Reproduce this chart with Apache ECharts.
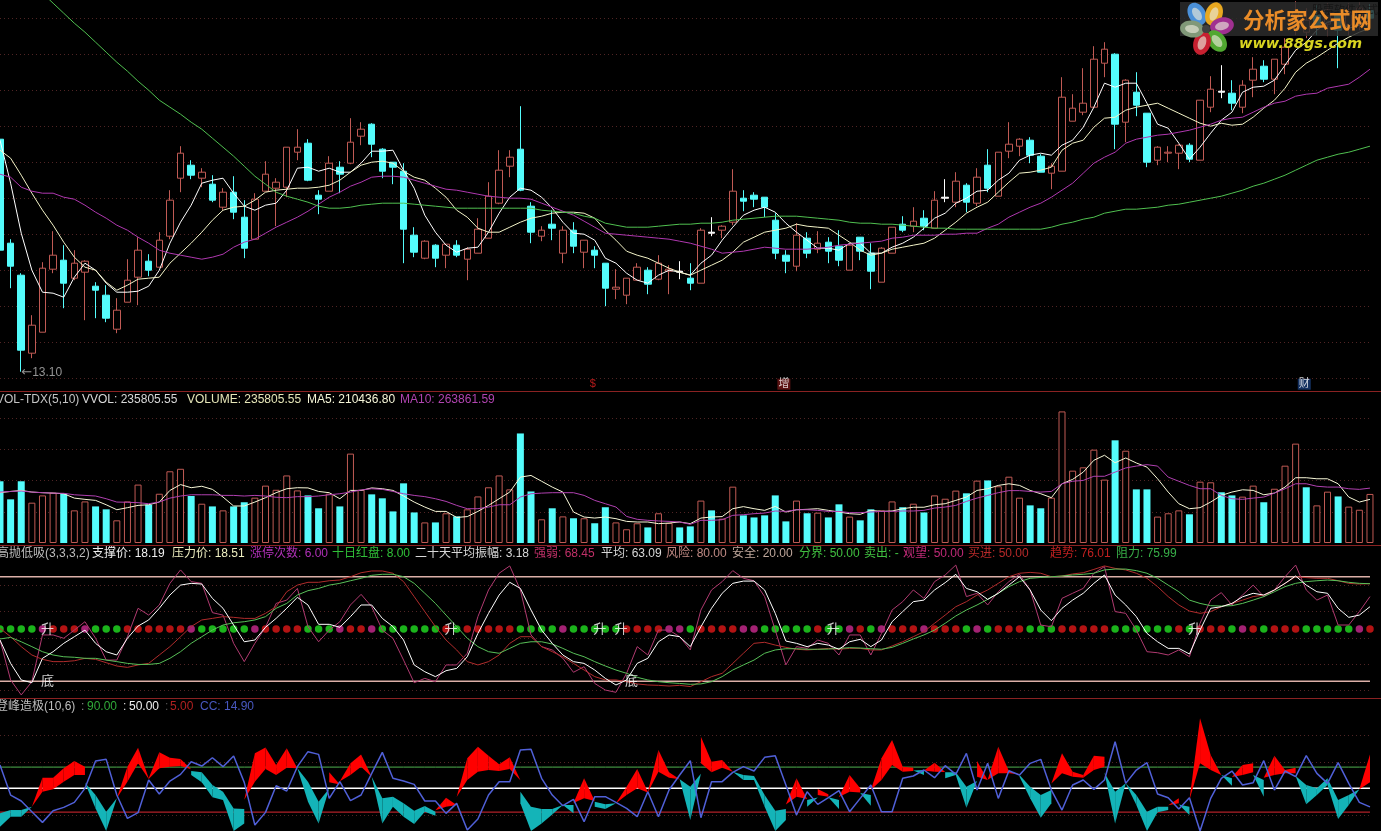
<!DOCTYPE html>
<html><head><meta charset="utf-8">
<style>html,body{margin:0;padding:0;background:#000;overflow:hidden}#c{width:1381px;height:831px}</style>
<script src="https://cdn.jsdelivr.net/npm/echarts@6/dist/echarts.min.js"></script>
</head><body><div id="c"></div>
<script>
const opens=[17.75,15.67,15.03,13.47,13.89,15.15,15.33,14.97,15.09,14.81,14.63,13.95,14.49,14.99,15.31,15.19,15.81,16.97,17.23,16.97,16.85,16.39,16.69,16.19,15.75,16.71,16.77,16.79,17.49,17.67,16.63,16.71,17.19,17.27,17.81,18.05,17.55,17.29,17.11,15.83,15.37,15.63,15.43,15.63,15.35,15.47,15.77,16.47,17.21,17.55,16.41,15.81,16.05,15.47,15.93,15.49,15.53,15.27,14.75,14.63,14.93,15.13,14.95,15.11,15.11,14.97,14.87,15.89,15.93,16.09,16.57,16.63,16.59,16.13,15.43,15.21,15.77,15.55,15.69,15.61,15.13,15.79,15.47,14.89,15.47,16.05,16.01,16.17,15.97,16.59,16.49,16.83,16.47,17.23,16.61,17.51,17.61,17.73,17.41,17.07,17.11,18.11,18.29,18.39,19.27,19.45,18.09,18.69,18.27,17.33,17.47,17.47,17.63,17.33,18.39,18.71,18.67,18.39,18.93,19.21,18.95,19.25,19.97,19.89,20.23,20.05,20.23,20.03,20.13,20.33];
const closes=[15.53,15.21,13.53,14.03,15.17,15.43,14.87,15.27,15.31,14.73,14.17,14.33,14.93,15.53,15.13,15.73,16.53,17.47,17.03,17.09,16.53,16.69,16.29,15.57,16.55,17.05,16.89,17.59,17.59,16.93,16.55,17.27,17.05,17.69,17.95,17.65,17.11,17.19,15.95,15.49,15.71,15.37,15.65,15.43,15.55,15.95,16.61,17.13,17.39,16.73,15.89,15.93,15.97,15.93,15.61,15.73,15.43,14.77,14.79,14.97,15.19,14.85,15.27,15.15,15.09,14.87,15.93,15.87,16.01,16.71,16.51,16.55,16.39,15.47,15.31,15.83,15.47,15.67,15.51,15.33,15.63,15.51,15.11,15.57,15.99,15.93,16.11,16.01,16.53,16.57,16.91,16.49,16.99,16.77,17.49,17.65,17.75,17.43,17.09,17.21,18.59,18.37,18.47,19.35,19.55,18.05,18.93,18.43,17.29,17.59,17.49,17.63,17.35,18.53,18.75,18.69,18.47,18.83,19.15,18.95,19.35,19.59,20.29,20.13,20.03,20.33,19.93,20.29,20.37,20.17];
const lows=[15.53,14.77,13.10,13.37,13.89,15.07,14.37,14.93,14.13,14.17,14.09,13.87,14.49,14.43,15.01,15.19,15.75,16.69,16.95,16.79,16.49,16.33,16.15,15.37,15.75,16.71,16.01,16.59,17.33,16.91,16.25,16.71,16.67,17.25,17.63,17.39,16.97,16.85,15.27,15.39,15.35,15.19,15.17,15.39,14.93,15.47,15.77,16.45,16.99,16.71,15.67,15.71,15.73,15.27,15.47,15.17,15.17,14.41,14.55,14.45,14.93,14.65,14.93,14.65,14.95,14.73,14.87,15.81,15.77,16.03,16.31,16.39,16.19,15.35,15.07,15.11,15.37,15.47,15.27,15.21,15.13,15.33,14.75,14.89,15.47,15.89,15.89,15.93,15.97,16.49,16.39,16.29,16.41,16.69,16.61,17.37,17.41,17.27,17.09,16.75,17.11,18.11,18.23,18.37,18.99,17.55,17.69,18.21,17.19,17.23,17.29,17.15,17.29,17.33,18.29,18.57,18.33,18.27,18.59,18.89,18.65,19.05,19.83,19.77,19.83,19.81,19.17,19.83,19.93,19.97];
const highs=[17.75,15.75,15.07,14.23,15.29,15.91,15.63,15.53,15.33,14.89,14.83,14.57,15.35,15.79,15.45,15.89,16.73,17.61,17.33,17.17,17.03,16.77,17.01,16.53,16.67,17.31,16.97,17.59,17.95,17.75,16.73,17.41,17.31,18.17,18.09,18.07,17.57,17.29,17.27,15.99,15.73,15.65,15.65,15.73,15.59,16.17,16.89,17.53,17.53,18.41,16.49,16.01,16.33,16.01,16.09,15.73,15.61,15.27,15.15,14.97,15.27,15.19,15.43,15.23,15.31,15.27,15.97,16.19,16.03,17.15,16.73,16.69,16.59,16.27,15.53,16.07,15.89,15.91,15.79,15.93,15.67,15.79,15.67,15.59,15.99,16.21,16.39,16.33,16.71,16.95,17.09,16.87,17.17,17.55,17.49,18.09,17.77,17.79,17.45,17.27,18.99,18.65,19.17,19.61,19.69,19.47,18.95,19.09,18.27,17.61,17.61,17.65,17.67,18.53,19.01,19.23,18.93,18.93,19.39,19.33,19.35,19.77,20.51,20.37,20.43,20.47,20.37,20.47,20.49,20.45];
const whiteDoji=[64,67,89,115];
const priceMa5=[17.73,16.87,15.87,15.13,14.69,14.67,14.59,14.99,15.27,15.13,14.87,14.69,14.69,14.71,14.81,15.13,15.67,16.09,16.43,16.87,16.93,16.97,16.67,16.41,16.33,16.43,16.47,16.73,17.17,17.19,17.11,17.17,17.09,17.09,17.27,17.51,17.51,17.53,17.13,16.77,16.23,15.89,15.63,15.49,15.57,15.59,15.89,16.27,16.59,16.77,16.73,16.59,16.37,16.09,15.87,15.85,15.73,15.37,15.27,15.07,14.93,14.87,15.03,15.13,15.09,15.03,15.27,15.43,15.73,15.99,16.23,16.33,16.39,16.29,16.07,15.89,15.73,15.57,15.57,15.53,15.67,15.67,15.47,15.47,15.59,15.67,15.79,15.97,16.17,16.27,16.47,16.57,16.71,16.73,16.93,17.07,17.33,17.43,17.47,17.43,17.63,17.73,17.99,18.39,18.87,18.79,18.87,18.87,18.47,18.05,17.97,17.67,17.35,17.59,17.87,18.13,18.29,18.69,18.79,18.81,18.93,19.23,19.53,19.69,19.93,20.09,20.13,19.97,20.03,20.13];
const priceMa10=[17.53,17.37,17.03,16.67,16.33,16.03,15.69,15.39,15.19,15.13,14.89,14.73,14.83,14.95,14.97,14.99,15.27,15.47,15.67,15.89,16.13,16.33,16.39,16.41,16.53,16.69,16.73,16.75,16.77,16.77,16.79,16.83,16.93,17.09,17.23,17.29,17.31,17.27,17.11,16.99,16.93,16.77,16.59,16.33,16.19,15.97,15.89,15.89,15.99,16.09,16.17,16.21,16.27,16.29,16.29,16.27,16.17,15.93,15.73,15.51,15.43,15.37,15.27,15.17,15.09,15.03,15.13,15.23,15.33,15.49,15.69,15.79,15.89,15.93,15.97,16.05,16.01,15.99,15.97,15.83,15.69,15.53,15.43,15.47,15.55,15.59,15.63,15.67,15.77,15.93,16.09,16.27,16.39,16.49,16.69,16.89,17.07,17.09,17.13,17.19,17.53,17.67,17.73,17.99,18.17,18.19,18.33,18.39,18.43,18.47,18.37,18.27,18.17,18.07,18.01,18.07,18.03,18.05,18.19,18.37,18.53,18.77,19.09,19.27,19.39,19.53,19.67,19.79,19.89,19.97];
const priceMa30=[17.05,16.99,16.79,16.71,16.67,16.67,16.59,16.55,16.43,16.29,16.17,16.03,15.93,15.79,15.67,15.53,15.47,15.43,15.39,15.35,15.39,15.45,15.59,15.69,15.75,15.87,15.99,16.09,16.19,16.31,16.45,16.59,16.69,16.81,16.89,16.99,17.01,17.01,16.99,16.93,16.87,16.81,16.75,16.73,16.69,16.65,16.61,16.59,16.57,16.57,16.55,16.47,16.39,16.31,16.23,16.11,15.99,15.87,15.85,15.83,15.81,15.79,15.77,15.75,15.71,15.67,15.61,15.55,15.47,15.49,15.51,15.55,15.59,15.57,15.55,15.55,15.55,15.57,15.59,15.63,15.65,15.67,15.69,15.71,15.77,15.79,15.83,15.83,15.83,15.85,15.85,15.87,15.87,15.97,16.05,16.19,16.29,16.39,16.47,16.59,16.73,16.87,17.07,17.27,17.39,17.49,17.67,17.75,17.79,17.83,17.85,17.89,17.93,17.99,18.05,18.13,18.17,18.19,18.29,18.39,18.47,18.51,18.61,18.65,18.67,18.77,18.81,18.85,18.99,19.15];
const priceMa120=[21.53,21.33,21.13,20.89,20.67,20.47,20.27,20.07,19.89,19.69,19.49,19.29,19.11,18.91,18.73,18.53,18.39,18.25,18.09,17.95,17.77,17.59,17.41,17.21,17.01,16.85,16.69,16.61,16.55,16.49,16.41,16.37,16.37,16.39,16.43,16.45,16.47,16.47,16.47,16.45,16.43,16.41,16.39,16.37,16.37,16.37,16.37,16.37,16.37,16.37,16.37,16.33,16.31,16.29,16.27,16.21,16.17,16.07,16.03,15.99,15.99,15.99,16.01,16.03,16.05,16.05,16.07,16.07,16.09,16.13,16.15,16.17,16.19,16.21,16.21,16.21,16.19,16.17,16.15,16.13,16.09,16.07,16.07,16.05,16.05,16.03,16.01,15.99,15.97,15.97,15.95,15.95,15.95,15.95,15.95,15.95,15.95,15.95,15.95,15.99,16.05,16.09,16.15,16.19,16.27,16.31,16.35,16.35,16.37,16.39,16.43,16.45,16.49,16.53,16.57,16.61,16.67,16.73,16.81,16.87,16.95,17.03,17.13,17.23,17.33,17.39,17.45,17.49,17.55,17.61];
const vol=[297,210,297,194,229,242,237,157,200,176,162,109,200,281,184,237,345,357,226,189,176,157,176,196,218,276,256,325,253,229,167,237,176,430,256,234,215,152,287,147,99,99,143,128,162,224,268,325,258,527,248,114,167,128,119,119,95,172,99,66,95,75,143,96,75,80,204,157,117,271,133,123,133,229,104,204,143,146,123,186,127,109,162,157,200,172,189,147,229,213,252,239,300,301,273,319,218,181,167,218,633,348,364,449,305,494,444,258,258,127,143,157,138,295,292,244,229,223,276,196,261,372,478,268,181,247,224,175,160,236];
const volDownBars=[0,1,2,6,9,10,14,18,20,22,23,29,30,32,35,36,37,38,39,41,43,49,50,52,54,56,57,61,64,65,67,70,71,72,73,74,76,78,79,81,82,85,87,91,93,97,98,105,107,108,112,115,116,119,123,126];
const volMa5=[242,248,253,245,242,240,237,216,210,205,184,160,170,181,184,197,253,281,266,273,258,221,178,178,197,218,242,261,266,265,248,242,213,253,253,265,261,253,226,197,173,152,152,123,127,152,181,213,245,317,325,297,269,245,149,125,120,125,117,104,101,101,93,96,101,93,120,125,127,165,175,165,157,176,149,160,162,165,157,149,141,138,157,152,154,165,172,172,184,189,205,221,253,261,277,285,277,253,237,218,285,306,341,398,422,386,409,385,365,309,245,189,165,170,197,229,245,256,253,232,240,269,314,314,309,309,285,221,197,210];
const volMa10=[245,248,250,245,242,240,239,232,229,226,213,197,196,194,189,197,216,226,232,232,232,229,229,226,229,226,220,218,223,223,226,232,237,245,255,261,258,248,237,229,223,213,200,181,165,165,173,184,184,221,237,240,242,242,242,229,205,189,173,128,114,109,106,104,101,90,109,109,112,133,136,141,144,154,152,160,160,157,152,152,146,146,149,152,152,154,154,157,168,173,181,200,216,229,242,252,252,248,245,248,285,297,301,321,321,341,361,370,377,370,317,297,277,261,261,229,213,210,216,221,240,261,285,285,273,269,269,261,258,264];
const oscMain=[43.7,30.3,20.8,19.2,33.2,37.0,41.8,45.6,49.4,41.8,37.0,35.1,44.7,51.7,55.2,61.9,69.5,75.2,76.2,75.8,67.6,61.9,52.3,42.7,43.7,51.0,56.1,61.9,68.2,63.8,52.7,52.7,51.0,57.1,63.8,63.8,56.1,51.4,43.7,29.4,25.5,22.7,26.1,27.4,34.1,47.5,59.0,69.5,76.8,73.3,60.9,49.4,41.8,35.1,31.3,30.3,26.5,21.7,17.9,20.8,30.3,33.2,42.7,46.6,45.6,39.9,51.3,61.9,70.5,76.2,77.5,77.5,72.4,59.0,43.1,41.8,39.9,41.8,40.8,38.4,42.7,44.1,39.9,43.7,54.2,60.0,65.7,66.6,72.4,76.6,81.4,73.3,71.4,67.0,70.5,75.2,80.0,72.4,60.9,54.8,61.9,66.6,70.5,76.2,81.0,69.5,63.8,57.1,47.5,42.7,38.9,38.9,35.7,49.4,61.9,62.8,64.7,68.5,70.5,69.5,72.4,76.2,80.4,75.2,71.4,70.5,61.9,56.7,58.0,62.8];
const oscFast=[43.7,20.8,12.2,19.8,46.6,46.6,44.7,49.4,54.2,44.7,32.2,32.2,45.6,61.9,58.0,63.8,76.2,83.9,77.2,76.2,59.4,58.0,41.8,31.3,41.8,51.0,64.7,66.6,73.3,51.4,42.7,49.4,54.2,63.8,69.9,62.8,49.4,44.7,32.2,19.2,21.7,19.8,29.4,29.4,36.1,57.1,72.4,82.0,86.2,72.4,46.6,39.9,38.0,33.2,25.2,28.4,18.8,15.0,13.7,24.6,39.9,35.1,49.4,49.4,45.6,38.0,60.9,72.4,77.2,83.5,79.1,77.7,68.6,49.4,29.4,39.9,38.9,43.7,41.8,35.1,46.6,46.6,35.1,47.5,60.9,65.7,72.4,67.6,77.2,81.0,86.7,68.6,70.5,63.8,71.4,77.2,81.4,72.4,52.3,51.3,67.6,70.5,73.3,82.0,85.8,60.0,59.0,49.4,37.0,36.4,35.1,38.0,34.1,53.3,66.6,70.9,63.8,69.5,75.2,68.6,72.4,80.0,86.7,72.4,66.6,69.5,52.3,52.3,60.0,68.6];
const oscTrend=[50.4,45.6,39.9,35.1,32.6,31.3,31.3,31.8,33.2,32.6,30.7,28.8,28.0,29.4,30.3,35.1,39.9,45.6,51.4,55.2,56.1,57.1,56.7,56.1,56.1,59.0,62.8,71.4,75.2,76.8,76.8,77.7,78.1,80.0,82.3,83.3,83.3,82.0,77.2,68.6,60.0,51.4,43.7,38.0,31.3,29.4,31.3,35.1,41.8,45.6,45.6,39.9,37.0,34.1,30.3,26.5,22.7,20.8,20.8,19.8,18.5,17.9,17.7,17.3,17.7,17.0,19.8,22.7,24.6,30.3,36.1,41.8,42.4,40.8,39.5,38.4,38.0,38.4,38.9,38.4,38.9,38.9,38.0,38.0,40.3,42.7,45.6,48.5,53.3,58.0,62.8,65.7,69.5,72.4,76.2,80.0,82.0,82.5,82.0,80.0,80.4,81.6,82.3,84.2,86.2,84.8,83.9,82.0,79.1,74.3,68.6,63.8,60.3,59.0,60.0,62.8,64.7,66.6,68.6,69.5,72.4,76.2,80.0,79.5,79.1,79.1,77.7,76.2,75.8,76.0];
const oscResist=[44.3,45.2,42.7,39.9,37.0,35.1,34.1,33.8,33.2,33.2,32.2,31.3,30.3,29.7,29.7,30.3,33.2,37.0,41.8,45.6,49.4,52.3,53.6,54.2,55.2,57.1,61.9,64.7,69.5,72.0,73.3,75.2,76.2,77.7,79.1,80.8,81.4,81.4,80.0,76.2,70.5,64.7,58.0,51.4,44.7,39.9,37.0,36.1,38.9,41.8,42.7,42.7,41.4,38.9,36.1,34.1,31.3,28.8,26.5,24.6,22.3,20.8,19.8,19.2,18.8,18.3,18.5,19.8,22.7,26.5,29.4,32.2,36.1,38.0,38.7,38.7,38.4,38.4,38.5,38.9,39.3,39.1,38.7,38.4,39.5,41.8,44.3,46.6,49.4,53.3,57.5,60.9,63.8,67.0,70.5,74.3,77.2,79.1,79.6,80.0,80.4,81.0,81.4,82.0,83.9,84.4,84.4,83.5,82.0,79.1,75.2,71.4,66.6,64.7,63.4,63.2,63.4,64.7,66.6,68.6,71.4,74.3,76.2,77.2,77.7,78.1,77.7,76.8,76.2,76.0];
const dotState="g,g,g,g,m,r,r,r,m,g,g,g,r,r,r,r,r,r,m,g,g,g,g,g,m,r,r,r,r,g,g,g,m,r,r,m,g,g,g,g,g,g,r,g,r,r,r,r,r,g,g,g,g,m,g,g,g,g,g,r,r,r,r,m,m,g,r,r,r,r,m,m,g,g,g,g,g,r,g,g,m,r,g,m,r,r,r,m,r,r,r,g,m,g,r,r,r,g,g,g,r,r,r,r,r,g,g,g,g,g,g,r,g,r,r,r,g,m,r,g,r,r,r,g,g,g,g,g,m,r".split(",");
const riseBars=[4,42,56,58,78,112];
const bottomBars=[4,59];
const riskLevel=80, safeLevel=20, splitLevel=50;
const bandA=[-22.5,-3.6,-3.6,15.3,70.0,70.0,87.6,101.5,90.8,12.1,-30.6,31.0,90.8,126.6,68.8,117.8,107.7,105.2,75.0,61.2,32.9,27.9,-30.6,-16.2,115.9,127.2,93.9,125.4,87.6,24.7,-16.2,80.1,34.2,97.1,114.0,71.9,-16.2,15.3,-3.6,-17.4,5.9,-1.7,32.3,5.9,106.5,128.5,111.5,95.2,108.4,21.6,-30.6,-16.2,0.8,18.4,2.7,68.8,15.3,10.9,21.6,53.0,86.4,43.6,122.2,80.1,66.9,-9.9,147.4,100.2,103.3,81.3,65.6,65.6,15.3,-30.6,-9.9,68.8,15.3,48.6,38.6,10.9,75.0,49.9,17.2,106.5,141.1,90.8,88.9,75.0,98.3,68.8,75.0,13.4,101.5,29.8,128.5,82.6,71.9,31.0,-5.5,21.6,115.9,81.3,75.0,111.5,109.6,-16.2,59.3,18.4,-30.6,4.6,9.0,31.0,-0.4,182.0,112.8,75.0,54.9,93.9,97.1,34.2,111.5,84.5,88.9,19.7,37.3,56.2,-8.0,18.4,48.0,114.0];
const bandB=[2.7,9.0,9.0,15.3,43.6,48.0,62.5,75.0,75.0,37.3,5.9,31.0,62.5,97.1,67.5,87.6,90.8,92.0,82.6,80.1,56.2,43.6,12.1,10.9,62.5,86.4,75.0,88.9,87.6,62.5,24.7,61.2,53.0,75.0,90.8,71.9,31.0,34.2,21.6,7.7,16.5,5.9,15.3,21.6,65.6,81.3,84.5,82.6,86.4,43.6,15.3,10.9,10.9,18.4,18.4,31.0,24.7,19.7,21.6,37.3,49.9,42.3,81.3,70.0,66.9,53.0,97.1,80.1,88.9,81.3,75.0,73.2,37.3,7.7,10.9,34.2,27.9,37.3,34.2,27.9,43.6,42.3,37.3,65.6,93.9,81.3,82.6,84.5,81.3,80.1,80.1,53.0,71.9,59.3,78.2,78.2,75.0,53.0,37.3,46.7,78.2,71.9,70.0,84.5,90.8,43.6,59.3,37.3,5.9,15.3,15.3,21.6,15.3,97.1,84.5,75.0,68.8,75.0,80.1,65.6,75.0,78.2,78.2,56.2,49.9,68.8,27.9,37.3,48.0,61.2];
const ccLine=[93.9,37.3,26.0,5.9,-14.3,7.7,14.0,23.5,49.9,101.5,104.6,37.3,-6.7,4.0,65.6,39.2,63.7,76.3,100.2,92.0,107.7,90.8,110.9,61.2,-19.3,4.6,54.9,44.8,90.8,119.1,114.0,31.0,62.5,26.6,37.3,78.2,117.8,68.8,63.7,57.4,26.0,26.0,2.7,21.6,-28.7,-8.0,37.3,62.5,62.5,122.2,123.5,68.8,37.3,17.2,29.1,-13.0,34.2,34.2,23.5,12.1,-3.6,43.6,-3.6,46.7,75.0,102.1,-5.5,62.5,62.5,80.1,90.8,82.6,108.4,111.5,56.2,-0.4,43.6,19.7,32.3,45.5,5.9,31.0,56.2,5.9,5.9,68.8,73.2,84.5,70.0,92.7,76.3,115.9,46.7,97.1,31.0,83.2,75.0,97.1,104.6,46.7,9.0,56.2,65.6,48.0,65.6,137.9,59.3,84.5,98.3,39.2,32.3,10.9,32.3,-30.6,31.0,68.8,82.6,56.2,60.6,102.1,46.7,82.6,71.9,111.5,78.2,59.3,98.3,59.3,23.5,14.9];
const lineHigh=90, lineMid=50, lineLow=5;
const eventBars=[56,74,123], eventTexts=["$","增","财"];

const N=opens.length, cats=opens.map((_,i)=>i);
const RED='#c05a54', CYAN='#54fcfc', GRID='#502424';
const FONT='"Liberation Sans","Noto Sans CJK SC",sans-serif';
const xAxisFor=g=>({type:'category',gridIndex:g,data:cats,show:false,boundaryGap:false});
const yAxisFor=(g,min,max,interval,showMin,showMax)=>({type:'value',gridIndex:g,min,max,interval,scale:true,
  axisLine:{show:false},axisTick:{show:false},axisLabel:{show:false},
  splitLine:{show:true,showMinLine:showMin,showMaxLine:showMax,lineStyle:{color:GRID,type:[1,3],width:1}}});
const gridAt=(top,height)=>({left:0,width:1369.98,top,height,containLabel:false});
const ln=(name,g,data,color,width,z)=>({name,type:'line',xAxisIndex:g,yAxisIndex:g,data,symbol:'none',silent:true,clip:false,z:z||3,
  lineStyle:{color,width}});
const constant=v=>cats.map(()=>v);

const candleData=cats.map(i=>{
  const value=[opens[i],closes[i],lows[i],highs[i]];
  return whiteDoji.includes(i)?{value,itemStyle:{color:'#fff',color0:'#fff',borderColor:'#fff',borderColor0:'#fff'}}:value;
});
const volData=cats.map(i=>volDownBars.includes(i)
  ?{value:vol[i],itemStyle:{color:CYAN,borderColor:CYAN,borderWidth:0}}
  :{value:vol[i],itemStyle:{color:'#000',borderColor:RED,borderWidth:1}});
const dotColors={g:'#22e022',r:'#e01818',m:'#cc2a90'};
const textMarks=(g,bars,v,txt,offset)=>({type:'scatter',xAxisIndex:g,yAxisIndex:g,symbolSize:1,silent:true,z:8,
  itemStyle:{color:'transparent'},data:bars.map(b=>[b,v]),
  label:{show:true,position:'inside',formatter:txt,color:'#fff',fontSize:13,fontFamily:FONT,offset:[offset,0]}});

function bandItem(params,api){
  const i=params.dataIndex;
  if(i>=N-1) return null;
  const a0=bandA[i],b0=bandB[i],a1=bandA[i+1],b1=bandB[i+1];
  const d0=a0-b0,d1=a1-b1,kids=[];
  const P=(x,v)=>api.coord([x,v]);
  const poly=(pts,up)=>kids.push({type:'polygon',shape:{points:pts},style:{fill:up?'#ff0000':'#14b4b8',stroke:null},silent:true});
  if(d0*d1>=0){
    poly([P(i,a0),P(i+1,a1),P(i+1,b1),P(i,b0)],(d0+d1)>=0);
  }else{
    const t=d0/(d0-d1),v=a0+(a1-a0)*t;
    poly([P(i,a0),P(i+t,v),P(i,b0)],d0>0);
    poly([P(i+t,v),P(i+1,a1),P(i+1,b1)],d1>0);
  }
  return {type:'group',children:kids};
}

const txt=(text,x,y,fill)=>({type:'text',x,y,z:50,silent:true,
  style:{text,fill,font:'12px '+FONT,textVerticalAlign:'middle'}});
const sep=y=>({type:'rect',shape:{x:0,y,width:1381,height:1},style:{fill:'#8a2222'},z:40,silent:true});
const Y1=400,Y2=554,Y3=707;
const headers=[
 ['VOL-TDX(5,10)',-4,Y1,'#c4c4c4'],['VVOL: 235805.55',82,Y1,'#d8d8d8'],['VOLUME: 235805.55',187,Y1,'#e6e6b8'],['MA5: 210436.80',307,Y1,'#f6f6d8'],['MA10: 263861.59',400,Y1,'#b044b0'],
 ['高抛低吸(3,3,3,2)',-3,Y2,'#bdbdbd'],['支撑价: 18.19',92,Y2,'#f0f0f0'],['压力价: 18.51',172,Y2,'#eeeec0'],['涨停次数: 6.00',250,Y2,'#b030b8'],['十日红盘: 8.00',332,Y2,'#30c038'],['二十天平均振幅: 3.18',415,Y2,'#d8d8d8'],['强弱: 68.45',534,Y2,'#c03068'],['平均: 63.09',601,Y2,'#d8d8d8'],['风险: 80.00',666,Y2,'#c08a84'],['安全: 20.00',732,Y2,'#c0a89c'],['分界: 50.00',799,Y2,'#40c040'],['卖出: -',864,Y2,'#40c040'],['观望: 50.00',903,Y2,'#c02a78'],['买进: 50.00',968,Y2,'#b82a2a'],['趋势: 76.01',1050,Y2,'#c02020'],['阻力: 75.99',1116,Y2,'#38b048'],
 ['登峰造极(10,6)',-4,Y3,'#bdbdbd'],[':',81,Y3,'#888'],['90.00',87,Y3,'#30a838'],[':',123,Y3,'#ddd'],['50.00',129,Y3,'#f0f0f0'],[':',165,Y3,'#555'],['5.00',170,Y3,'#b02020'],['CC: 14.90',200,Y3,'#4858c0']
];
const petals=[[1197,14,31,'#4a90d8'],[1214,14,-20,'#e8a820'],[1222,26,-78,'#a03090'],[1217,41,38,'#50a830'],[1202,43,-18,'#c82030'],[1192,29,82,'#809878']];
const logo=[
 {type:'rect',shape:{x:1180,y:2,width:198,height:34},style:{fill:'#2c2c2c',opacity:0.85},z:60,silent:true},
 {type:'text',x:1312,y:10,z:61,silent:true,style:{text:'股票软件公式',fill:'#161616',font:'11px "Noto Sans CJK SC"',textVerticalAlign:'middle'}},
 ...petals.map(p=>({type:'ellipse',x:p[0],y:p[1],rotation:p[2]*Math.PI/180,shape:{cx:0,cy:0,rx:8.5,ry:12},style:{fill:p[3]},z:62,silent:true})),
 ...petals.map(p=>({type:'ellipse',x:p[0],y:p[1],rotation:p[2]*Math.PI/180,shape:{cx:0,cy:0,rx:4,ry:7},style:{fill:'#e8e8d8',opacity:0.65},z:63,silent:true})),
 {type:'circle',shape:{cx:1206,cy:29,r:4},style:{fill:'#404040'},z:64,silent:true},
 {type:'text',x:1243,y:20,z:65,silent:true,style:{text:'分析家公式网',fill:'#ea8c28',font:'bold 21.5px "Noto Sans CJK SC"',textVerticalAlign:'middle'}},
 {type:'text',x:1239,y:44,z:65,silent:true,style:{text:'www.88gs.com',fill:'#d8d420',font:'italic bold 14.5px "DejaVu Sans"',textVerticalAlign:'middle'}}
];
const eventStyles=[{color:'#e02020',backgroundColor:'transparent'},{color:'#fff',backgroundColor:'#701818'},{color:'#fff',backgroundColor:'#183c78'}];

const option={
 animation:false,backgroundColor:'#000',
 grid:[gridAt(18.7,360),gridAt(387.1,155.9),gridAt(559.3,156.9),gridAt(708.8,106)],
 xAxis:[0,1,2,3].map(xAxisFor),
 yAxis:[yAxisFor(0,12.96,20.16,0.72,true,true),yAxisFor(1,0,750,150,false,false),yAxisFor(2,0,90,15,false,false),yAxisFor(3,0,200,50,true,false)],
 graphic:{elements:[sep(391),sep(545),sep(698),
   ...headers.map(h=>txt(h[0],h[1],h[2],h[3])),...logo]},
 series:[
  {type:'candlestick',xAxisIndex:0,yAxisIndex:0,data:candleData,barWidth:7,clip:false,silent:true,z:2,
   itemStyle:{color:'#000',color0:CYAN,borderColor:RED,borderColor0:CYAN,borderWidth:1}},
  ln('MA5',0,priceMa5,'#ffffff',1),ln('MA10',0,priceMa10,'#f4f4c8',1),ln('MA30',0,priceMa30,'#b038b0',1),ln('MA120',0,priceMa120,'#50c050',1),
  {type:'scatter',xAxisIndex:0,yAxisIndex:0,symbolSize:1,silent:true,z:8,itemStyle:{color:'transparent'},data:[[2,13.10]],
   label:{show:true,position:'inside',align:'left',formatter:'{a|←}13.10',color:'#b8b8b8',fontSize:12,fontFamily:FONT,offset:[0,1],
     rich:{a:{fontFamily:'"DejaVu Sans"',fontSize:13,color:'#b8b8b8'}}}},
  {type:'scatter',xAxisIndex:0,yAxisIndex:0,symbolSize:1,silent:true,z:45,clip:false,itemStyle:{color:'transparent'},
   data:eventBars.map((b,k)=>({value:[b,12.85],label:eventStyles[k]})),
   label:{show:true,position:'inside',fontSize:11,fontFamily:FONT,padding:[0,1],offset:[-2,0],
    formatter:p=>eventTexts[p.dataIndex]}},
  {type:'bar',xAxisIndex:1,yAxisIndex:1,data:volData,barWidth:7,silent:true,z:2},
  ln('VMA5',1,volMa5,'#f8f8d8',1),ln('VMA10',1,volMa10,'#b040b0',1),
  ln('Risk',2,constant(riskLevel),'#dcb0a8',1.5,2),ln('Safe',2,constant(safeLevel),'#dcb0a8',1.5,2),
  {type:'scatter',xAxisIndex:2,yAxisIndex:2,symbolSize:7.5,silent:true,z:3,
   data:cats.map(i=>({value:[i,splitLevel],itemStyle:{color:dotColors[dotState[i]]}}))},
  ln('Fast',2,oscFast,'#b03a70',1,4),ln('Trend',2,oscTrend,'#b02c2c',1,4),ln('Resist',2,oscResist,'#58c058',1,5),ln('Main',2,oscMain,'#ffffff',1,6),
  textMarks(2,riseBars,splitLevel,'升',5),textMarks(2,bottomBars,safeLevel,'底',5),
  ln('H',3,constant(lineHigh),'#50b050',1,2),ln('M',3,constant(lineMid),'#ffffff',1.5,2),ln('L',3,constant(lineLow),'#b02028',1.2,2),
  {type:'custom',xAxisIndex:3,yAxisIndex:3,coordinateSystem:'cartesian2d',silent:true,z:4,clip:false,
   data:cats.map(i=>[i,bandA[i],bandB[i]]),encode:{x:0,y:[1,2]},renderItem:bandItem},
  ln('CC',3,ccLine,'#5060d8',1.5,5)
 ]
};
const chart=echarts.init(document.getElementById('c'),null,{renderer:'canvas',width:1381,height:831});
chart.setOption(option);
</script></body></html>
